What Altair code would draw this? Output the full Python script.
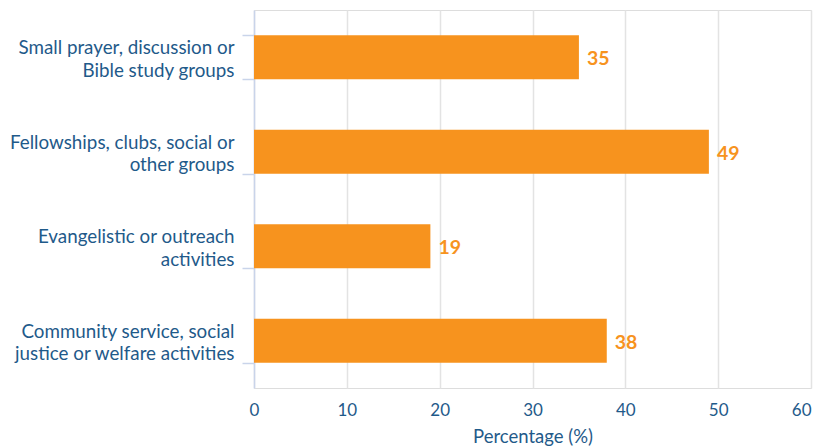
import altair as alt
import pandas as pd

categories = [
    "Small prayer, discussion or|Bible study groups",
    "Fellowships, clubs, social or|other groups",
    "Evangelistic or outreach|activities",
    "Community service, social|justice or welfare activities",
]
values = [35, 49, 19, 38]

df = pd.DataFrame({"category": categories, "value": values})

LABEL_COLOR = "#1f5a8a"
BAR_COLOR = "#f7931e"

base = alt.Chart(df).encode(
    y=alt.Y(
        "category:N",
        sort=categories,
        title=None,
        scale=alt.Scale(paddingInner=0.534, paddingOuter=0.267),
        axis=alt.Axis(
            labelExpr="split(datum.label, '|')",
            labelFont="Lato",
            labelFontSize=18.8,
            labelColor=LABEL_COLOR,
            labelLineHeight=22.5,
            labelLimit=0,
            labelOffset=-9.5,
            labelPadding=8,
            tickBand="extent",
            tickSize=12,
            tickColor="#c9d4ea",
            domainColor="#c9d4ea",
            tickWidth=1.5,
            domainWidth=1.5,
            grid=False,
        ),
    ),
)

bars = base.mark_bar(color=BAR_COLOR).encode(
    x=alt.X(
        "value:Q",
        scale=alt.Scale(domain=[0, 60]),
        title="Percentage (%)",
        axis=alt.Axis(
            values=[0, 10, 20, 30, 40, 50, 60],
            labelFont="Lato",
            labelFontSize=17,
            labelColor=LABEL_COLOR,
            labelFlush=False,
            labelAlign={"expr": "datum.value == 60 ? 'right' : 'center'"},
            labelPadding=14,
            titleFont="Lato",
            titleFontSize=18.5,
            titleFontWeight="normal",
            titleColor=LABEL_COLOR,
            titlePadding=9,
            domain=False,
            ticks=False,
            grid=True,
            gridColor="#e3e3e3",
            gridWidth=1.5,
        ),
    )
)

text = base.mark_text(
    align="left", baseline="middle", dx=8, dy=2, font="Lato", fontSize=19.5,
    fontWeight="bold", color=BAR_COLOR
).encode(x="value:Q", text="value:Q")

chart = (
    (bars + text)
    .properties(
        width=557,
        height=378,
        padding={"left": 254, "top": 10, "right": 15, "bottom": 59},
        autosize=alt.AutoSizeParams(type="none"),
    )
    .configure_view(stroke=None)
    .configure(background="white")
)

chart.save("out.html", embed_options={"renderer": "svg", "actions": False})
